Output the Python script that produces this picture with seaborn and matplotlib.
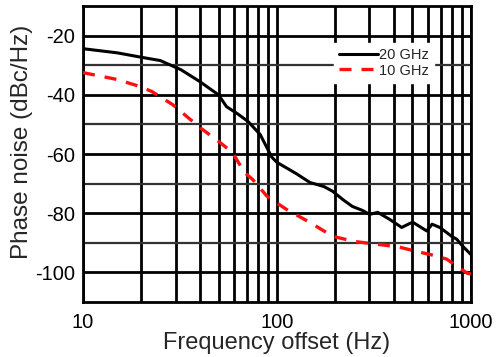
import numpy as np
import pandas as pd
import matplotlib
matplotlib.use("Agg")
import matplotlib.pyplot as plt
import matplotlib.ticker as mticker
import seaborn as sns

# 20 GHz trace (black, solid)
freq_20 = [10, 15, 20, 25, 32, 40, 50, 55, 63, 71, 82, 94, 100, 125, 148, 175, 194, 220, 245, 275,
           301, 331, 380, 440, 501, 593, 631, 692, 750, 796, 847, 910, 1000]
pn_20 = [-24.4, -25.8, -27.3, -28.4, -31.5, -35.5, -40.0, -44.0, -46.5, -49.0, -53.4, -61.0, -62.8,
         -66.5, -69.6, -71.0, -72.6, -75.5, -77.7, -79.0, -80.4, -79.7, -82.0, -84.8, -83.0, -86.0,
         -83.7, -84.8, -86.5, -87.8, -88.8, -91.2, -93.9]

# 10 GHz trace (red, dashed)
freq_10 = [10, 15, 19.7, 22.7, 29, 40, 50, 59, 68, 75, 89, 112, 148, 194, 250, 301, 360, 431, 525,
           640, 751, 847, 960, 1000]
pn_10 = [-32.5, -34.8, -37.2, -38.9, -43.3, -51.0, -55.7, -59.5, -66.2, -68.6, -74.3, -78.7, -83.1,
         -87.8, -89.5, -90.2, -90.8, -91.5, -92.9, -94.2, -95.5, -97.9, -100.3, -100.5]

x_ticks = [10, 100, 1000]
x_labels = ["10", "100", "1000"]
y_ticks = [-20, -40, -60, -80, -100]
y_labels = ["-20", "-40", "-60", "-80", "-100"]

sns.set_style("white")
plt.rcParams["font.family"] = ["Liberation Sans", "DejaVu Sans"]

fig = plt.figure(figsize=(5.03, 3.57), dpi=100)
ax = fig.add_axes([0.165, 0.154, 0.771, 0.829])

df20 = pd.DataFrame({"f": freq_20, "pn": pn_20})
df10 = pd.DataFrame({"f": freq_10, "pn": pn_10})
sns.lineplot(data=df20, x="f", y="pn", ax=ax, color="black", lw=2.2, label="20 GHz", zorder=3)
sns.lineplot(data=df10, x="f", y="pn", ax=ax, color="#ff1010", lw=2.4, label="10 GHz", zorder=3)
ax.lines[1].set_dashes([3.6, 3.0])

ax.set_xscale("log")
ax.set_xlim(10, 1000)
ax.set_ylim(-110, -10)
ax.set_xticks(x_ticks)
ax.xaxis.set_major_formatter(mticker.FixedFormatter(x_labels))
ax.xaxis.set_minor_locator(mticker.LogLocator(base=10, subs=np.arange(2, 10)))
ax.xaxis.set_minor_formatter(mticker.NullFormatter())
ax.set_yticks(y_ticks)
ax.set_yticklabels(y_labels)
ax.yaxis.set_minor_locator(mticker.FixedLocator([-30, -50, -70, -90]))

ax.grid(which="major", color="black", lw=2)
ax.grid(which="minor", axis="x", color="black", lw=2)
ax.grid(which="minor", axis="y", color="#333333", lw=1.6)
ax.set_axisbelow(True)
for s in ax.spines.values():
    s.set_color("black")
    s.set_linewidth(2)
ax.tick_params(which="both", length=0, labelsize=14.5, colors="black")
ax.tick_params(axis="x", pad=8)
ax.tick_params(axis="y", pad=6)

ax.set_xlabel("Frequency offset (Hz)", fontsize=17, labelpad=0)
ax.set_ylabel("Phase noise (dBc/Hz)", fontsize=17.5)
ax.yaxis.set_label_coords(-0.13, 0.54)

leg = ax.legend(loc="upper right", bbox_to_anchor=(0.925, 0.9), fontsize=10.5, frameon=True,
                handlelength=2.7, handletextpad=0.1, labelspacing=0.1, borderpad=0.35,
                fancybox=False)
leg.get_frame().set_facecolor("white")
leg.get_frame().set_edgecolor("white")
leg.get_frame().set_alpha(1)

fig.savefig("out.png", dpi=100)
